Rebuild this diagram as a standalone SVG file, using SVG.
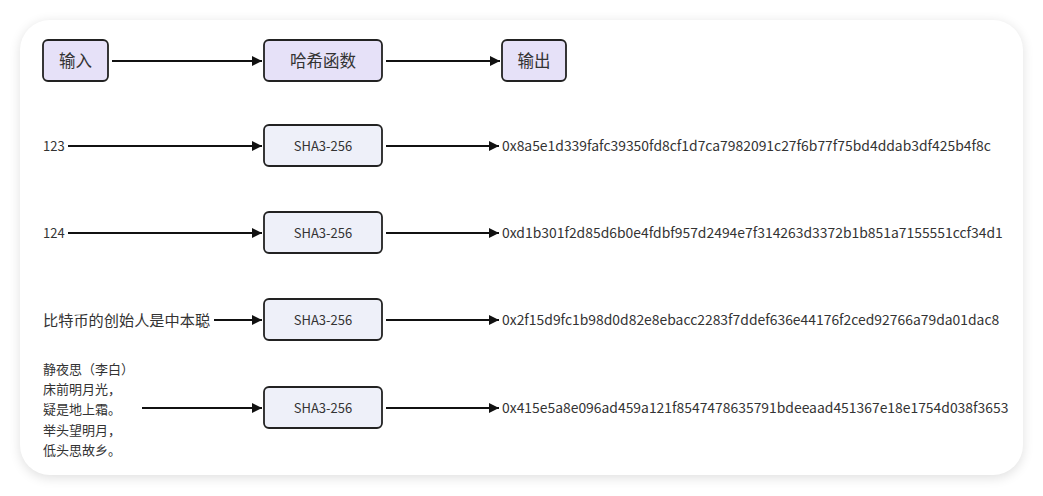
<svg xmlns="http://www.w3.org/2000/svg" width="1043" height="496" viewBox="0 0 1043 496">
<defs>
<filter id="sh" x="-10%" y="-10%" width="120%" height="120%">
<feGaussianBlur stdDeviation="6"/>
</filter>
<marker id="ah" markerWidth="10" markerHeight="10" refX="10" refY="5" orient="auto" markerUnits="userSpaceOnUse">
<path d="M0,0 L10,5 L0,10 Z" fill="#111"/>
</marker>
</defs>
<style>
.t{font-family:"Noto Sans CJK SC","Noto Sans",sans-serif;font-size:16.5px;fill:#333}
.h{font-family:"Noto Sans CJK SC","Noto Sans",sans-serif;font-size:13px;fill:#333}
.x{font-family:"Noto Sans CJK SC","Noto Sans",sans-serif;font-size:13.9px;fill:#333}
.b{font-family:"Noto Sans CJK SC","Noto Sans",sans-serif;font-size:15.2px;fill:#333}
.top{fill:#e6e1f8;stroke:#222;stroke-width:1.8}
.sha{fill:#eef0f9;stroke:#222;stroke-width:1.8}
.c{stroke:#111;stroke-width:2;fill:none;marker-end:url(#ah)}
</style>
<rect width="1043" height="496" fill="#ffffff"/>
<rect x="20" y="22" width="1003" height="456" rx="30" fill="#000" opacity="0.12" filter="url(#sh)"/>
<rect x="20" y="20" width="1003" height="455" rx="30" fill="#fff"/>
<g id="connectors">
<line class="c" x1="112" y1="61" x2="262" y2="61"/>
<line class="c" x1="386" y1="61" x2="500" y2="61"/>
<line class="c" x1="68" y1="146" x2="262" y2="146"/>
<line class="c" x1="386" y1="146" x2="499" y2="146"/>
<line class="c" x1="68" y1="233" x2="262" y2="233"/>
<line class="c" x1="386" y1="233" x2="499" y2="233"/>
<line class="c" x1="214" y1="320" x2="262" y2="320"/>
<line class="c" x1="386" y1="320" x2="499" y2="320"/>
<line class="c" x1="142" y1="408" x2="262" y2="408"/>
<line class="c" x1="386" y1="408" x2="499" y2="408"/>
</g>
<g id="input"><rect class="top" x="43" y="40" width="65" height="41" rx="5"/><text class="t" x="75.5" y="67" text-anchor="middle">输入</text></g>
<g id="hash"><rect class="top" x="264" y="40" width="118" height="41" rx="5"/><text class="t" x="323" y="67" text-anchor="middle">哈希函数</text></g>
<g id="output"><rect class="top" x="502" y="40" width="64" height="41" rx="5"/><text class="t" x="534" y="67" text-anchor="middle">输出</text></g>
<g id="in1"><text class="h" x="43" y="151">123</text></g>
<g id="sha1"><rect class="sha" x="264" y="125" width="118" height="41" rx="5"/><text class="h" x="323" y="151" text-anchor="middle">SHA3-256</text></g>
<g id="out1"><text class="x" x="502" y="151">0x8a5e1d339fafc39350fd8cf1d7ca7982091c27f6b77f75bd4ddab3df425b4f8c</text></g>
<g id="in2"><text class="h" x="43" y="238">124</text></g>
<g id="sha2"><rect class="sha" x="264" y="212" width="118" height="41" rx="5"/><text class="h" x="323" y="238" text-anchor="middle">SHA3-256</text></g>
<g id="out2"><text class="x" x="502" y="238">0xd1b301f2d85d6b0e4fdbf957d2494e7f314263d3372b1b851a7155551ccf34d1</text></g>
<g id="in3"><text class="b" x="43" y="325.5">比特币的创始人是中本聪</text></g>
<g id="sha3"><rect class="sha" x="264" y="299" width="118" height="41" rx="5"/><text class="h" x="323" y="325" text-anchor="middle">SHA3-256</text></g>
<g id="out3"><text class="x" x="502" y="325">0x2f15d9fc1b98d0d82e8ebacc2283f7ddef636e44176f2ced92766a79da01dac8</text></g>
<g id="in4"><text class="h" x="43" y="374">静夜思（李白）</text><text class="h" x="43" y="394">床前明月光，</text><text class="h" x="43" y="414">疑是地上霜。</text><text class="h" x="43" y="435">举头望明月，</text><text class="h" x="43" y="455">低头思故乡。</text></g>
<g id="sha4"><rect class="sha" x="264" y="387" width="118" height="41" rx="5"/><text class="h" x="323" y="413" text-anchor="middle">SHA3-256</text></g>
<g id="out4"><text class="x" x="502" y="413">0x415e5a8e096ad459a121f8547478635791bdeeaad451367e18e1754d038f3653</text></g>
</svg>
